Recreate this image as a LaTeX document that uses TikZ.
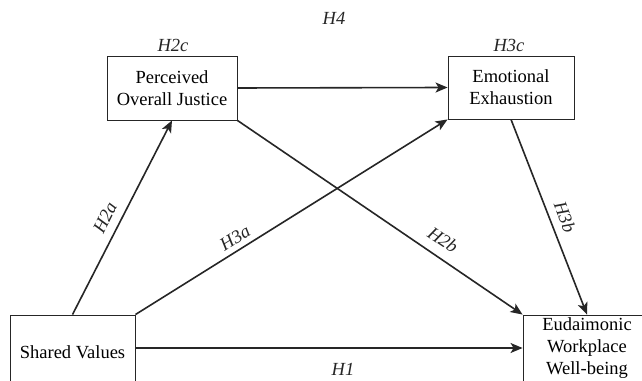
\documentclass[tikz,border=0pt]{standalone}
\usepackage{fontspec}
\setmainfont{Liberation Serif}
\usetikzlibrary{arrows.meta}
\tikzset{
  box/.style={draw=black!85, line width=0.9pt, inner sep=0pt, align=center,
    font=\fontsize{18.5}{22}\selectfont},
  conn/.style={draw=black!85, line width=1.6pt,
    -{Stealth[length=12pt,width=10pt,inset=3pt]}},
  lbl/.style={inner sep=0pt, font=\fontsize{18.5}{22}\selectfont\itshape, text=black!85}
}
\begin{document}
\begin{tikzpicture}[x=1pt,y=1pt]
\useasboundingbox (0,0) rectangle (642,380);
\clip (0,0) rectangle (642,380);
\fill[white] (0,0) rectangle (642,380);
% boxes
\node[box, minimum width=130pt, minimum height=64pt] (pj) at (172,292) {Perceived\\Overall Justice};
\node[box, minimum width=126pt, minimum height=63pt] (ee) at (511,292.5) {Emotional\\Exhaustion};
\node[box, minimum width=125pt, minimum height=75pt] (sv) at (72.5,27.5) {Shared Values};
\node[box, minimum width=128pt, minimum height=66pt] (ew) at (587,32) {Eudaimonic\\Workplace\\Well-being};
% connectors
\draw[conn] (sv.north) -- (pj.south);
\draw[conn] (sv.north east) -- (ee.south west);
\draw[conn] (pj.south east) -- (ew.north west);
\draw[conn] (ee.south) -- (ew.north);
\draw[conn] (pj.east) -- (ee.west);
\draw[conn] (sv.east |- ew.west) -- (ew.west);
% labels
\node[lbl] (h4) at (334,362) {H4};
\node[lbl] (h2c) at (173,335) {H2c};
\node[lbl] (h3c) at (509,335) {H3c};
\node[lbl, rotate=63.6] (h2a) at (105,162) {H2a};
\node[lbl, rotate=32] (h3a) at (235,142) {H3a};
\node[lbl, rotate=-34] (h2b) at (443,140) {H2b};
\node[lbl, rotate=-69.5] (h3b) at (565,163) {H3b};
\node[lbl] (h1) at (343,11) {H1};
\end{tikzpicture}
\end{document}
